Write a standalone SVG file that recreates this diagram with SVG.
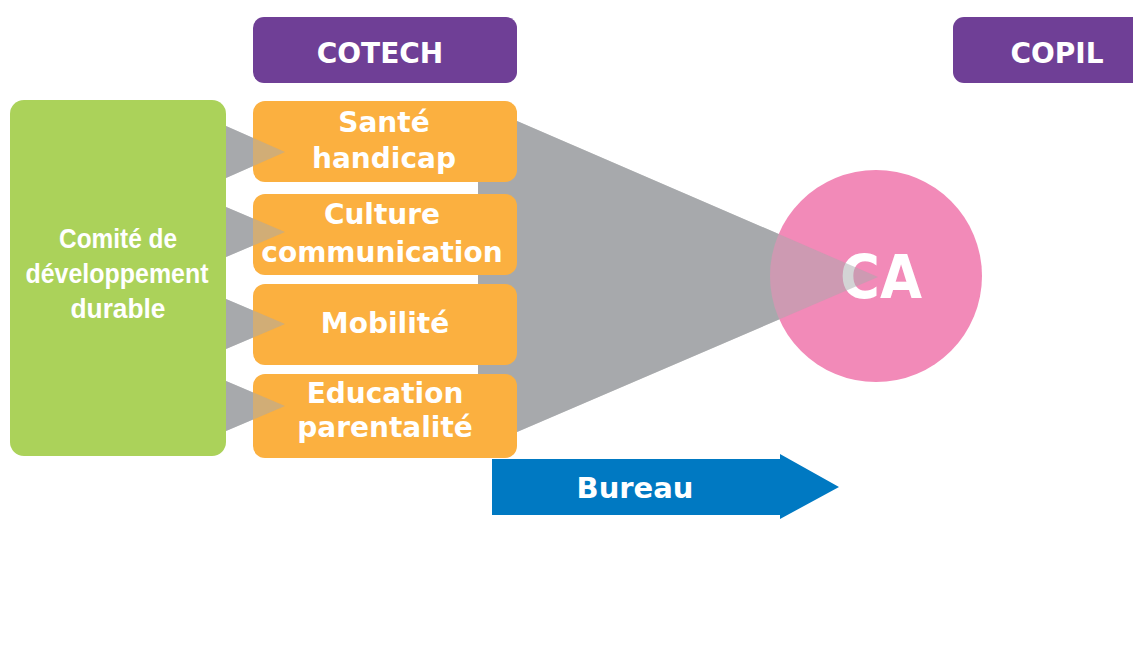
<svg xmlns="http://www.w3.org/2000/svg" width="1133" height="653" viewBox="0 0 1133 653">
<style>
.purple{fill:#6f3f96}
.orange{fill:#fbb040}
.green{fill:#abd25a}
.pink{fill:#f28ab8}
.gray{fill:#a7a9ac}
.over{fill:#a7a9ac;opacity:0.5}
.blue{fill:#0079c2}
.lbl{font-family:"DejaVu Sans","Liberation Sans",sans-serif;font-weight:bold;fill:#ffffff;text-anchor:middle}
.cond{font-family:"Liberation Sans","DejaVu Sans",sans-serif;font-weight:bold;fill:#ffffff;text-anchor:middle}
</style>
<rect width="1133" height="653" fill="#ffffff"/>
<g id="connectors">
  <polygon class="gray" points="478,121 517,121 878,277 517,432 478,432"/>
  <polygon class="gray" points="226,126 285,152 226,178"/>
  <polygon class="gray" points="226,207 285,232 226,257"/>
  <polygon class="gray" points="226,299 285,324 226,349"/>
  <polygon class="gray" points="226,381 285,406 226,431"/>
</g>
<g id="cotech">
  <rect class="purple" x="253" y="17" width="264" height="66" rx="11"/>
  <text class="lbl" x="380" y="63" font-size="28">COTECH</text>
</g>
<g id="copil">
  <rect class="purple" x="953" y="17" width="200" height="66" rx="11"/>
  <text class="lbl" x="1057" y="63" font-size="28">COPIL</text>
</g>
<g id="comite">
  <rect class="green" x="10" y="100" width="216" height="356" rx="14"/>
  <text class="cond" x="118" y="248" font-size="28" textLength="118" lengthAdjust="spacingAndGlyphs">Comité de</text>
  <text class="cond" x="117" y="283" font-size="28" textLength="183" lengthAdjust="spacingAndGlyphs">développement</text>
  <text class="cond" x="118" y="318" font-size="28" textLength="95" lengthAdjust="spacingAndGlyphs">durable</text>
</g>
<g id="sante">
  <rect class="orange" x="253" y="101" width="264" height="81" rx="12"/>
  <text class="lbl" x="384" y="132" font-size="28">Santé</text>
  <text class="lbl" x="384" y="168" font-size="28">handicap</text>
</g>
<g id="culture">
  <rect class="orange" x="253" y="194" width="264" height="81" rx="12"/>
  <text class="lbl" x="382" y="224" font-size="28">Culture</text>
  <text class="lbl" x="382" y="262" font-size="28">communication</text>
</g>
<g id="mobilite">
  <rect class="orange" x="253" y="284" width="264" height="81" rx="12"/>
  <text class="lbl" x="385" y="333" font-size="28">Mobilité</text>
</g>
<g id="education">
  <rect class="orange" x="253" y="374" width="264" height="84" rx="12"/>
  <text class="lbl" x="385" y="403" font-size="28">Education</text>
  <text class="lbl" x="385" y="437" font-size="28">parentalité</text>
</g>
<g id="ca">
  <circle class="pink" cx="876" cy="276" r="106"/>
  <text class="lbl" x="881" y="298" font-size="60" textLength="82" lengthAdjust="spacingAndGlyphs">CA</text>
</g>
<g id="connector-overlays">
  <polygon class="over" points="517,121 878,277 517,432"/>
  <polygon class="over" points="226,126 285,152 226,178"/>
  <polygon class="over" points="226,207 285,232 226,257"/>
  <polygon class="over" points="226,299 285,324 226,349"/>
  <polygon class="over" points="226,381 285,406 226,431"/>
</g>
<g id="bureau">
  <polygon class="blue" points="492,459 780,459 780,454 839,487 780,519 780,515 492,515"/>
  <text class="lbl" x="635" y="498" font-size="29">Bureau</text>
</g>
</svg>
